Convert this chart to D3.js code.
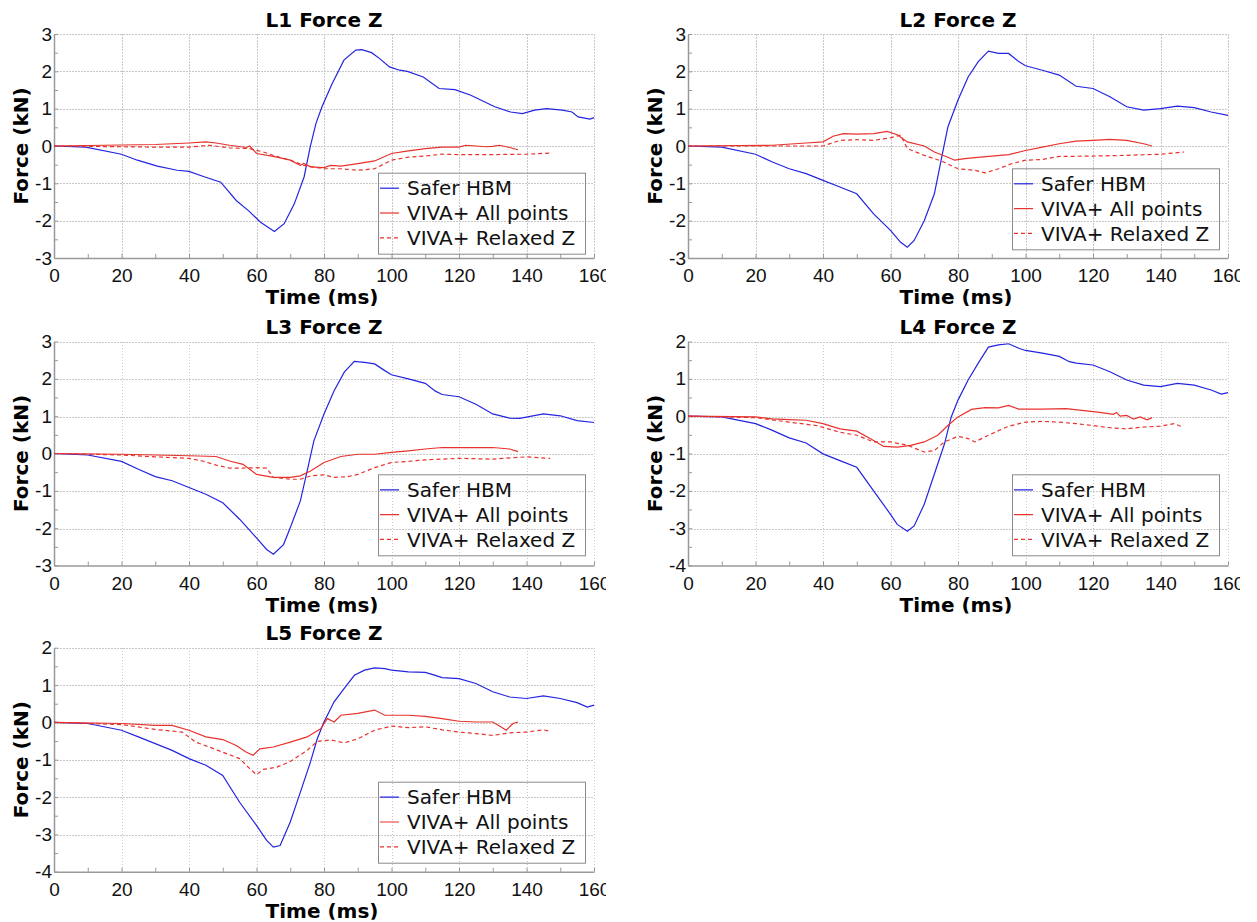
<!DOCTYPE html>
<html>
<head>
<meta charset="utf-8">
<script src="https://cdn.jsdelivr.net/npm/d3@7"></script>
<style>
  body { margin: 0; background: #fff; }
  svg { font-family: 'DejaVu Sans', sans-serif; }
  .grid line { stroke: #c8c8c8; stroke-dasharray: 1.5,1.5; shape-rendering: crispEdges; }
  .axis path, .axis line { stroke: #999; }
  .axis path { stroke-width: 1.5; }
  .axis text { font-size: 19px; fill: #111; }
</style>
</head>
<body>
<svg id="chart" width="1257" height="922"></svg>
<script>
// time (ms), force (kN)
let l1Safer = [[0,0],[9.4,-0.03],[20,-0.22],[24.7,-0.38],[30.6,-0.54],[36.5,-0.65],[40,-0.68],[44.7,-0.83],[49.4,-0.97],[54,-1.46],[57.6,-1.73],[61.2,-2.04],[65.3,-2.29],[68.2,-2.08],[71.2,-1.55],[74.1,-0.83],[75.9,-0.03],[77.6,0.6],[79.4,1.05],[82.4,1.67],[85.9,2.3],[89.4,2.57],[91.2,2.58],[94.1,2.5],[96.5,2.34],[99.4,2.12],[102.4,2.03],[104.7,2.0],[109.4,1.85],[114.1,1.54],[118.8,1.51],[123.5,1.36],[130.6,1.05],[135.3,0.91],[138.8,0.87],[142.4,0.96],[145.9,1.0],[150.6,0.96],[153.5,0.91],[155.3,0.78],[158.8,0.72],[160,0.76]];
let l1All = [[0,0],[30,0.04],[40,0.08],[45,0.11],[48,0.08],[52,0.02],[57,-0.04],[58,0.0],[60,-0.2],[65,-0.28],[70,-0.38],[73,-0.52],[74,-0.47],[76,-0.56],[80,-0.58],[82,-0.52],[85,-0.54],[90,-0.47],[95,-0.4],[100,-0.2],[105,-0.13],[110,-0.07],[115,-0.03],[120,-0.03],[122,0.02],[125,0.0],[128,-0.02],[130,-0.01],[132,0.02],[135,-0.04],[137.5,-0.1]];
let l1Relaxed = [[0,0],[30,-0.03],[40,-0.03],[46,0.02],[52,-0.05],[58,-0.07],[62,-0.16],[66,-0.28],[70,-0.38],[74,-0.52],[80,-0.61],[85,-0.61],[90,-0.65],[95,-0.61],[100,-0.38],[105,-0.3],[110,-0.27],[115,-0.22],[120,-0.23],[130,-0.23],[140,-0.22],[147,-0.19]];

let l2Safer = [[0,0],[10,-0.03],[20,-0.22],[25,-0.43],[30,-0.61],[35,-0.74],[40,-0.92],[45,-1.1],[50,-1.28],[55,-1.82],[60,-2.26],[63,-2.58],[65,-2.71],[67,-2.53],[70,-2.0],[73,-1.28],[75,-0.38],[77,0.51],[80,1.23],[83,1.85],[86,2.26],[89,2.54],[92,2.48],[95,2.48],[98,2.26],[100,2.15],[105,2.03],[110,1.9],[115,1.6],[120,1.54],[125,1.32],[130,1.05],[135,0.96],[140,1.0],[145,1.07],[150,1.03],[155,0.91],[160,0.82]];
let l2All = [[0,0],[25,0.02],[35,0.08],[40,0.11],[43,0.26],[46,0.33],[50,0.32],[55,0.33],[59,0.39],[62,0.3],[65,0.11],[70,0.0],[73,-0.16],[77,-0.3],[79,-0.38],[82,-0.34],[85,-0.31],[90,-0.27],[95,-0.23],[100,-0.12],[105,-0.03],[110,0.06],[115,0.13],[120,0.15],[125,0.18],[130,0.15],[135,0.06],[137.5,0.0]];
let l2Relaxed = [[0,0],[30,0],[40,0],[45,0.15],[50,0.17],[55,0.15],[60,0.22],[63,0.29],[65,-0.07],[70,-0.25],[75,-0.4],[80,-0.61],[85,-0.65],[88,-0.72],[92,-0.61],[96,-0.47],[100,-0.38],[105,-0.36],[110,-0.28],[120,-0.27],[130,-0.25],[140,-0.22],[147,-0.16]];

let l3Safer = [[0,0],[10,-0.04],[20,-0.21],[25,-0.42],[30,-0.62],[35,-0.73],[40,-0.91],[45,-1.09],[50,-1.32],[55,-1.76],[60,-2.26],[63,-2.57],[65,-2.7],[68,-2.44],[70,-1.99],[73,-1.27],[75,-0.47],[77,0.34],[80,1.06],[83,1.68],[86,2.18],[89,2.47],[92,2.44],[95,2.4],[98,2.22],[100,2.11],[105,2.0],[110,1.88],[113,1.67],[115,1.58],[120,1.52],[125,1.32],[130,1.06],[135,0.95],[138,0.94],[145,1.06],[150,1.01],[155,0.88],[160,0.83]];
let l3All = [[0,0],[20,-0.02],[30,-0.04],[40,-0.06],[48,-0.08],[52,-0.2],[56,-0.29],[58,-0.42],[60,-0.56],[65,-0.64],[70,-0.64],[73,-0.6],[76,-0.47],[80,-0.24],[85,-0.08],[90,-0.02],[95,-0.02],[100,0.03],[105,0.07],[110,0.12],[115,0.16],[120,0.16],[125,0.16],[130,0.16],[135,0.12],[137.5,0.05]];
let l3Relaxed = [[0,0],[20,-0.04],[30,-0.09],[40,-0.13],[44,-0.2],[48,-0.31],[52,-0.39],[56,-0.39],[60,-0.38],[63,-0.39],[65,-0.64],[70,-0.69],[73,-0.69],[76,-0.6],[80,-0.57],[83,-0.64],[87,-0.62],[90,-0.56],[95,-0.38],[100,-0.24],[105,-0.21],[110,-0.17],[120,-0.13],[130,-0.15],[140,-0.09],[147,-0.13]];

let l4Safer = [[0,0],[10,-0.02],[20,-0.2],[25,-0.38],[30,-0.58],[35,-0.72],[40,-1.01],[45,-1.19],[50,-1.37],[55,-2.0],[60,-2.63],[62,-2.9],[65,-3.08],[67,-2.94],[70,-2.36],[73,-1.55],[76,-0.74],[78,-0.02],[80,0.43],[83,0.97],[86,1.42],[89,1.85],[92,1.91],[95,1.94],[98,1.82],[100,1.76],[105,1.69],[110,1.6],[113,1.46],[115,1.42],[120,1.37],[125,1.19],[130,0.97],[135,0.83],[140,0.79],[145,0.88],[150,0.83],[155,0.7],[158,0.59],[160,0.63]];
let l4All = [[0,0],[20,-0.02],[25,-0.07],[30,-0.09],[35,-0.11],[40,-0.2],[45,-0.34],[50,-0.4],[55,-0.65],[58,-0.81],[62,-0.83],[66,-0.78],[70,-0.69],[74,-0.51],[77,-0.25],[80,-0.02],[84,0.18],[88,0.23],[92,0.22],[95,0.29],[98,0.19],[105,0.19],[112,0.2],[118,0.14],[122,0.1],[126,0.05],[127,0.1],[128,0.0],[130,0.02],[132,-0.08],[134,-0.02],[136,-0.1],[137.5,-0.04]];
let l4Relaxed = [[0,0],[20,-0.04],[30,-0.16],[38,-0.25],[45,-0.43],[50,-0.51],[55,-0.69],[60,-0.69],[65,-0.78],[70,-0.96],[73,-0.92],[76,-0.69],[80,-0.54],[83,-0.6],[85,-0.69],[90,-0.47],[95,-0.27],[100,-0.16],[105,-0.14],[110,-0.16],[115,-0.2],[120,-0.25],[125,-0.31],[130,-0.34],[135,-0.29],[140,-0.27],[144,-0.2],[146,-0.27]];

let l5Safer = [[0,0],[10,-0.03],[20,-0.21],[25,-0.39],[30,-0.57],[35,-0.75],[40,-0.97],[45,-1.15],[50,-1.42],[55,-2.14],[60,-2.76],[63,-3.16],[65,-3.34],[67,-3.3],[70,-2.67],[73,-1.87],[76,-1.06],[78,-0.44],[80,0.01],[83,0.55],[86,0.91],[89,1.26],[92,1.4],[95,1.46],[98,1.44],[100,1.4],[105,1.35],[110,1.34],[113,1.26],[115,1.2],[120,1.17],[125,1.04],[130,0.82],[135,0.68],[140,0.64],[145,0.71],[150,0.64],[155,0.53],[158,0.41],[160,0.46]];
let l5All = [[0,0],[20,-0.03],[30,-0.08],[35,-0.08],[40,-0.21],[45,-0.39],[50,-0.46],[54,-0.62],[57,-0.8],[59,-0.88],[61,-0.71],[65,-0.66],[70,-0.53],[75,-0.39],[79,-0.17],[81,0.1],[83,0.01],[85,0.19],[90,0.24],[95,0.33],[98,0.19],[105,0.19],[110,0.16],[115,0.1],[120,0.03],[125,0.01],[130,0.01],[132,-0.1],[134,-0.21],[136,-0.03],[137.5,0.01]];
let l5Relaxed = [[0,0],[20,-0.06],[30,-0.19],[38,-0.26],[42,-0.53],[46,-0.66],[50,-0.8],[55,-0.97],[58,-1.24],[60,-1.4],[62,-1.26],[66,-1.2],[70,-1.05],[75,-0.75],[78,-0.51],[82,-0.47],[86,-0.55],[90,-0.44],[95,-0.21],[100,-0.1],[105,-0.14],[110,-0.12],[115,-0.2],[120,-0.26],[125,-0.3],[130,-0.35],[135,-0.28],[140,-0.26],[145,-0.2],[147,-0.24]];

let titles = ['L1 Force Z', 'L2 Force Z', 'L3 Force Z', 'L4 Force Z', 'L5 Force Z'];
let yDomains = [[-3, 3], [-3, 3], [-3, 3], [-4, 2], [-4, 2]];
let seriesNames = ['Safer HBM', 'VIVA+ All points', 'VIVA+ Relaxed Z'];
let xTicks = [0, 20, 40, 60, 80, 100, 120, 140, 160];

let panelData = [
    [l1Safer, l1All, l1Relaxed],
    [l2Safer, l2All, l2Relaxed],
    [l3Safer, l3All, l3Relaxed],
    [l4Safer, l4All, l4Relaxed],
    [l5Safer, l5All, l5Relaxed]
];

// panel placement in the page
let origins = [[0, 0], [634, 0], [0, 307.5], [634, 307.5], [0, 613.7]];
let legendTops = [138.7, 134.3, 132.8, 132.8, 134];

let styles = [
    { color: '#2424e0', dash: null },
    { color: '#e8322c', dash: null },
    { color: '#e8322c', dash: '4,3' }
];

let pw = 606, ph = 306;
let m = { left: 54, top: 34 };
let w = 540, h = 224;

let svg = d3.select('#chart');

panelData.forEach((series, p) => {
    let panel = svg.append('svg')
        .attr('x', origins[p][0])
        .attr('y', origins[p][1])
        .attr('width', pw)
        .attr('height', ph)
        .attr('overflow', 'hidden');

    let g = panel.append('g')
        .attr('transform', `translate(${m.left}, ${m.top})`);

    let x = d3.scaleLinear().domain([0, 160]).range([0, w]);
    let y = d3.scaleLinear().domain(yDomains[p]).range([h, 0]);
    let yMajor = d3.range(yDomains[p][0], yDomains[p][1] + 1, 1);
    let yMinor = d3.range(yDomains[p][0], yDomains[p][1] + 0.01, 0.5);

    // dotted grid
    let grid = g.append('g').attr('class', 'grid');
    grid.selectAll('.gx')
        .data(xTicks.filter(d => d > 0))
        .enter().append('line')
        .attr('x1', d => Math.round(x(d)) + 0.5)
        .attr('x2', d => Math.round(x(d)) + 0.5)
        .attr('y1', 0)
        .attr('y2', h);
    grid.selectAll('.gy')
        .data(yMajor.filter(d => d > yDomains[p][0]))
        .enter().append('line')
        .attr('x1', 0)
        .attr('x2', w)
        .attr('y1', d => Math.round(y(d)) + 0.5)
        .attr('y2', d => Math.round(y(d)) + 0.5);

    let xAxis = d3.axisBottom(x)
        .tickValues(d3.range(0, 161, 10))
        .tickFormat(d => d % 20 === 0 ? String(d) : '')
        .tickSizeInner(-4)
        .tickSizeOuter(0)
        .tickPadding(11);

    let yAxis = d3.axisLeft(y)
        .tickValues(yMinor)
        .tickFormat(d => Number.isInteger(d) ? String(d) : '')
        .tickSizeInner(-4)
        .tickSizeOuter(0)
        .tickPadding(2);

    g.append('g')
        .attr('class', 'x axis')
        .attr('transform', `translate(0, ${h})`)
        .call(xAxis);

    g.append('g')
        .attr('class', 'y axis')
        .call(yAxis);

    let line = d3.line()
        .x(d => x(d[0]))
        .y(d => y(d[1]));

    series.forEach((s, i) => {
        g.append('path')
            .datum(s)
            .attr('fill', 'none')
            .attr('stroke', styles[i].color)
            .attr('stroke-width', 1.2)
            .attr('stroke-dasharray', styles[i].dash)
            .attr('d', line);
    });

    // title and axis labels
    g.append('text')
        .attr('x', w / 2)
        .attr('y', -7.5)
        .attr('text-anchor', 'middle')
        .attr('font-size', 20)
        .attr('font-weight', 'bold')
        .text(titles[p]);

    g.append('text')
        .attr('x', w / 2 - 2)
        .attr('y', h + 46)
        .attr('text-anchor', 'middle')
        .attr('font-size', 20)
        .attr('font-weight', 'bold')
        .text('Time (ms)');

    g.append('text')
        .attr('transform', `translate(${-26}, ${h / 2}) rotate(-90)`)
        .attr('text-anchor', 'middle')
        .attr('font-size', 20)
        .attr('font-weight', 'bold')
        .text('Force (kN)');

    // legend
    let legend = g.append('g')
        .attr('transform', `translate(${w - 216}, ${legendTops[p]})`);

    legend.append('rect')
        .attr('x', 0.5)
        .attr('y', 0.5)
        .attr('width', 207)
        .attr('height', 81)
        .attr('fill', 'none')
        .attr('stroke', '#8a8a8a');

    let items = legend.selectAll('.item')
        .data(seriesNames)
        .enter().append('g')
        .attr('transform', (d, i) => `translate(0, ${15.5 + i * 24.8})`);

    items.append('line')
        .attr('x1', 2)
        .attr('x2', 21)
        .attr('stroke', (d, i) => styles[i].color)
        .attr('stroke-width', 1.2)
        .attr('stroke-dasharray', (d, i) => styles[i].dash);

    items.append('text')
        .attr('x', 29)
        .attr('dy', '0.36em')
        .attr('font-size', 20)
        .attr('fill', '#111')
        .text(d => d);
});
</script>
</body>
</html>
